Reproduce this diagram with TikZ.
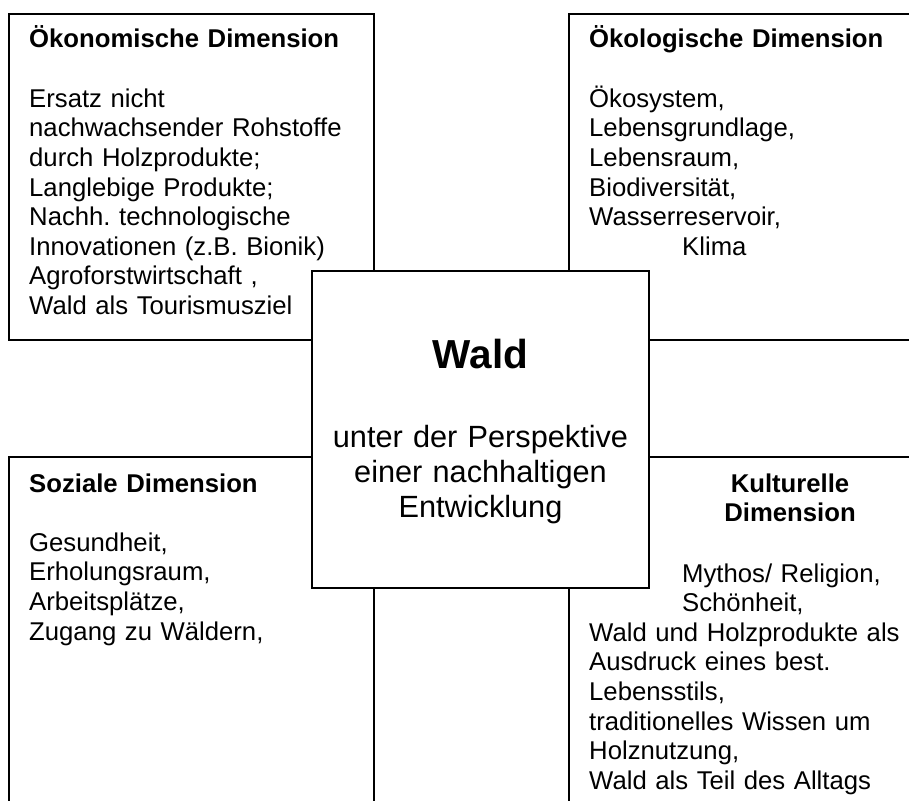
\documentclass[tikz,border=0pt]{standalone}
\usepackage{fontspec}
\setmainfont{Liberation Sans}
\frenchspacing

\begin{document}
\begin{tikzpicture}[x=1pt,y=-1pt,
    dimbox/.style={draw=black,line width=1.8pt},
    dimtext/.style={anchor=base west,inner sep=0pt,align=left,text width=330pt,
      font=\fontsize{25.7}{29.6}\selectfont\frenchspacing},
    dimtitle/.style={anchor=base,inner sep=0pt,align=center,text width=220pt,
      font=\fontsize{25.7}{29.6}\selectfont\bfseries}]
  \useasboundingbox (0,0) rectangle (909,800);
  \clip (0,0) rectangle (909,800);
  \draw[dimbox] (9,14) rectangle (374,340);
  \draw[dimbox] (569,14) rectangle (1011,340);
  \draw[dimbox] (9,457) rectangle (374,830);
  \draw[dimbox] (569,457) rectangle (1011,830);
  \draw[dimbox,fill=white] (312,271) rectangle (649,588);
  \node[dimtext] (oekonomie) at (29,48) {\textbf{Ökonomische Dimension}\\[29.6pt]
    Ersatz nicht\\nachwachsender Rohstoffe\\durch Holzprodukte;\\Langlebige Produkte;\\
    Nachh. technologische\\Innovationen (z.B. Bionik)\\Agroforstwirtschaft ,\\Wald als Tourismusziel};
  \node[dimtext] (oekologie) at (589,48) {\textbf{Ökologische Dimension}\\[29.6pt]
    Ökosystem,\\Lebensgrundlage,\\Lebensraum,\\Biodiversität,\\Wasserreservoir,\\
    \hspace*{93pt}Klima};
  \node[dimtext] (soziales) at (29,492) {\textbf{Soziale Dimension}\\[29.6pt]
    Gesundheit,\\Erholungsraum,\\Arbeitsplätze,\\Zugang zu Wäldern,};
  \node[dimtitle] (kulturTitel) at (790,492) {Kulturelle\\Dimension};
  \node[dimtext] (kultur) at (589,582) {\hspace*{93pt}Mythos/ Religion,\\
    \hspace*{93pt}Schönheit,\\Wald und Holzprodukte als\\Ausdruck eines best.\\
    Lebensstils,\\traditionelles Wissen um\\Holznutzung,\\Wald als Teil des Alltags};
  \node[anchor=base,inner sep=0pt,font=\fontsize{40.5}{44}\selectfont\bfseries]
    (wald) at (480.5,368) {Wald};
  \node[anchor=base,inner sep=0pt,align=center,text width=320pt,
    font=\fontsize{30.7}{35}\selectfont] (perspektive) at (480.5,447)
    {unter der Perspektive\\einer nachhaltigen\\Entwicklung};
\end{tikzpicture}
\end{document}
